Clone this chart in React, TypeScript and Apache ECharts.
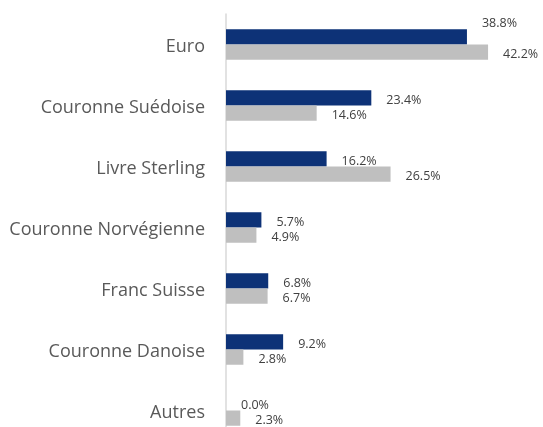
import React, { useEffect, useRef } from "react";
import * as echarts from "echarts";

const categories = [
  "Euro",
  "Couronne Suédoise",
  "Livre Sterling",
  "Couronne Norvégienne",
  "Franc Suisse",
  "Couronne Danoise",
  "Autres",
];
const seriesA = [38.8, 23.4, 16.2, 5.7, 6.8, 9.2, 0.0];
const seriesB = [42.2, 14.6, 26.5, 4.9, 6.7, 2.8, 2.3];

const NAVY = "#0D3277";
const GRAY = "#BFBFBF";

export default function App() {
  const ref = useRef<HTMLDivElement>(null);
  useEffect(() => {
    if (!ref.current) return;
    const chart = echarts.init(ref.current, null, { renderer: "svg" });
    const labelBase = {
      show: true,
      position: "right" as const,
      distance: 15,
      offset: [0, 1.5],
      fontFamily: "Open Sans",
      fontSize: 12.5,
      lineHeight: 14,
      color: "#404040",
      formatter: (p: any) => Number(p.value).toFixed(1) + "%",
    };
    const dataA = seriesA.map((v, i) =>
      i === 0 ? { value: v, label: { offset: [0, -14] } } : v
    );
    chart.setOption({
      animation: false,
      grid: {
        left: 226,
        top: 14,
        width: 310.5,
        height: 427,
        outerBoundsMode: "none",
        containLabel: false,
      },
      xAxis: { type: "value", min: 0, max: 50, show: false },
      yAxis: {
        type: "category",
        data: categories,
        inverse: true,
        axisTick: { show: false },
        axisLine: { show: true, lineStyle: { color: "#D9D9D9", width: 1.5 } },
        axisLabel: {
          margin: 21,
          fontFamily: "Open Sans",
          fontSize: 18,
          color: "#595959",
        },
        splitLine: { show: false },
      },
      series: [
        {
          type: "bar",
          data: dataA,
          itemStyle: { color: NAVY },
          barGap: "0%",
          barCategoryGap: "50%",
          label: labelBase,
        },
        {
          type: "bar",
          data: seriesB,
          itemStyle: { color: GRAY },
          barGap: "0%",
          barCategoryGap: "50%",
          label: labelBase,
        },
      ],
    });
    return () => chart.dispose();
  }, []);
  return (
    <div
      ref={ref}
      style={{ position: "fixed", left: 0, top: 0, width: 543, height: 427 }}
    />
  );
}
